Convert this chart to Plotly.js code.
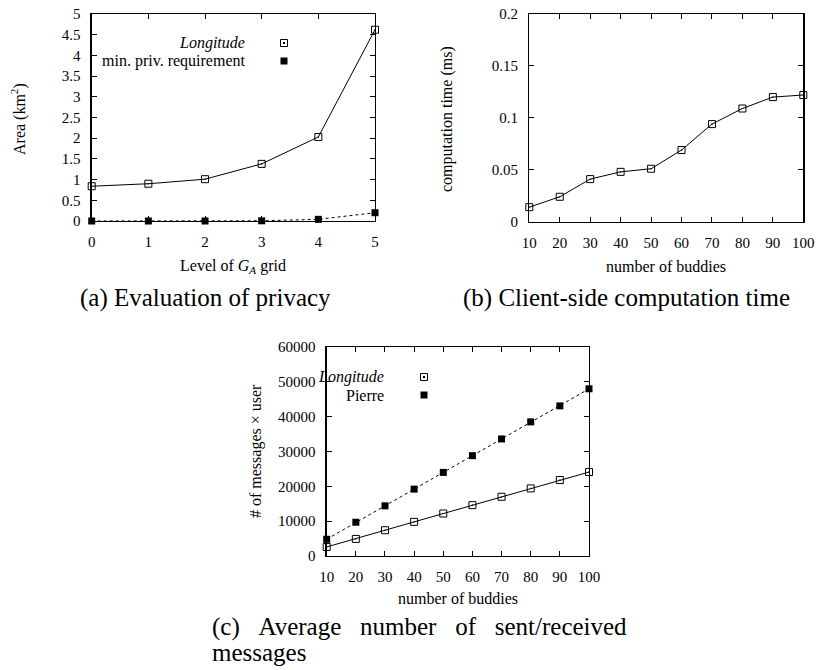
<!DOCTYPE html>
<html>
<head>
<meta charset="utf-8">
<script src="https://cdn.plot.ly/plotly-3.0.1.min.js"></script>
<style>html,body{margin:0;padding:0;background:#fff;}#chart{width:816px;height:670px;}</style>
</head>
<body>
<div id="chart"></div>
<script>
// (a) Evaluation of privacy
const levels = [0, 1, 2, 3, 4, 5];
const areaLongitude = [0.84, 0.90, 1.01, 1.38, 2.03, 4.62];
const areaMinPriv = [0, 0, 0, 0.005, 0.04, 0.2];

// (b) Client-side computation time
const buddies = [10, 20, 30, 40, 50, 60, 70, 80, 90, 100];
const compTime = [0.014, 0.024, 0.041, 0.048, 0.051, 0.069, 0.094, 0.109, 0.120, 0.122];

// (c) Average number of sent/received messages
const msgLongitude = [2600, 4900, 7400, 9800, 12200, 14600, 17000, 19400, 21800, 24100];
const msgPierre = [4800, 9700, 14400, 19200, 24000, 28800, 33600, 38500, 43100, 48000];

const FONT = 'Liberation Serif, Times New Roman, serif';
const W = 816, H = 670;
const px = x => x / W;
const py = y => 1 - y / H;

const openSq = {symbol: 'square-open-dot', size: 7, color: '#000', line: {width: 1, color: '#000'}};
const fillSq = {symbol: 'square', size: 7, color: '#000', line: {width: 0}};

const traces = [
  {x: levels, y: areaLongitude, type: 'scatter', mode: 'lines+markers', xaxis: 'x', yaxis: 'y',
   line: {color: '#000', width: 1}, marker: openSq, cliponaxis: false, name: 'Longitude'},
  {x: levels, y: areaMinPriv, type: 'scatter', mode: 'lines+markers', xaxis: 'x', yaxis: 'y',
   line: {color: '#000', width: 1, dash: 'dot'}, marker: fillSq, cliponaxis: false, name: 'min. priv. requirement'},
  {x: buddies, y: compTime, type: 'scatter', mode: 'lines+markers', xaxis: 'x2', yaxis: 'y2',
   line: {color: '#000', width: 1}, marker: openSq, cliponaxis: false, name: 'computation time'},
  {x: buddies, y: msgLongitude, type: 'scatter', mode: 'lines+markers', xaxis: 'x3', yaxis: 'y3',
   line: {color: '#000', width: 1}, marker: openSq, cliponaxis: false, name: 'Longitude'},
  {x: buddies, y: msgPierre, type: 'scatter', mode: 'lines+markers', xaxis: 'x3', yaxis: 'y3',
   line: {color: '#000', width: 1, dash: 'dot'}, marker: fillSq, cliponaxis: false, name: 'Pierre'}
];

function ax(domain, range, dtick, tick0, extra) {
  return Object.assign({
    domain: domain, range: range, dtick: dtick, tick0: tick0, tickmode: 'linear',
    showgrid: false, zeroline: false, showline: true, linecolor: '#000', linewidth: 1.3,
    mirror: 'allticks', ticks: 'inside', ticklen: 5, tickwidth: 1, tickcolor: '#000',
    tickfont: {family: FONT, size: 15, color: '#000'}, ticklabelstandoff: 7,
    automargin: false, fixedrange: true
  }, extra || {});
}

const layout = {
  width: W, height: H,
  margin: {l: 0, r: 0, t: 0, b: 0},
  paper_bgcolor: '#fff', plot_bgcolor: '#fff',
  showlegend: false,
  font: {family: FONT, color: '#000'},
  xaxis: ax([px(91.7), px(375)], [0, 5], 1, 0, {anchor: 'y'}),
  yaxis: ax([py(221), py(14)], [0, 5], 0.5, 0, {anchor: 'x'}),
  xaxis2: ax([px(529.3), px(803.3)], [10, 100], 10, 10, {anchor: 'y2'}),
  yaxis2: ax([py(221.7), py(14)], [0, 0.2], 0.05, 0, {anchor: 'x2'}),
  xaxis3: ax([px(326.7), px(589)], [10, 100], 10, 10, {anchor: 'y3'}),
  yaxis3: ax([py(556), py(347)], [0, 60000], 10000, 0, {anchor: 'x3', tickformat: 'd'}),
  annotations: [],
  shapes: []
};

function txt(text, x, y, size, opts) {
  layout.annotations.push(Object.assign({
    text: text, x: px(x), y: py(y), xref: 'paper', yref: 'paper', showarrow: false,
    xanchor: 'center', yanchor: 'middle', font: {family: FONT, size: size, color: '#000'}
  }, opts || {}));
}

// axis titles
txt('Level of <i>G<sub>A</sub></i> grid', 233, 266, 16);
txt('Area (km<sup>2</sup>)', 18, 119, 16, {textangle: -90});
txt('number of buddies', 666, 266, 16);
txt('computation time (ms)', 447, 119, 16, {textangle: -90});
txt('number of buddies', 458, 598, 16);
txt('# of messages × user', 256, 451, 16, {textangle: -90});

// captions
const SP = '&nbsp;&nbsp;&nbsp;';
txt('(a) Evaluation of privacy', 205, 298, 25);
txt('(b) Client-side computation time', 626, 298, 25);
txt(['(c)', 'Average', 'number', 'of', 'sent/received'].join(SP), 210, 627, 25, {xanchor: 'left'});
txt('messages', 210, 652, 25, {xanchor: 'left'});

// legends (text right-aligned, symbol to the right)
txt('<i>Longitude</i>', 247, 43, 16, {xanchor: 'right'});
txt('min. priv. requirement', 247, 61, 16, {xanchor: 'right'});
txt('<i>Longitude</i>', 386, 377, 16, {xanchor: 'right'});
txt('Pierre', 386, 395, 16, {xanchor: 'right'});

function legOpen(cx, cy) {
  layout.shapes.push({type: 'rect', xref: 'paper', yref: 'paper', x0: px(cx - 3.5), x1: px(cx + 3.5),
    y0: py(cy + 3.5), y1: py(cy - 3.5), line: {color: '#000', width: 1}, fillcolor: 'rgba(0,0,0,0)'});
  layout.shapes.push({type: 'rect', xref: 'paper', yref: 'paper', x0: px(cx - 1), x1: px(cx + 1),
    y0: py(cy + 1), y1: py(cy - 1), line: {width: 0}, fillcolor: '#000'});
}
function legFill(cx, cy) {
  layout.shapes.push({type: 'rect', xref: 'paper', yref: 'paper', x0: px(cx - 3.5), x1: px(cx + 3.5),
    y0: py(cy + 3.5), y1: py(cy - 3.5), line: {width: 0}, fillcolor: '#000'});
}
legOpen(284, 43); legFill(284, 61);
legOpen(424, 377); legFill(424, 395);

Plotly.newPlot('chart', traces, layout, {staticPlot: true, displayModeBar: false});
</script>
</body>
</html>
